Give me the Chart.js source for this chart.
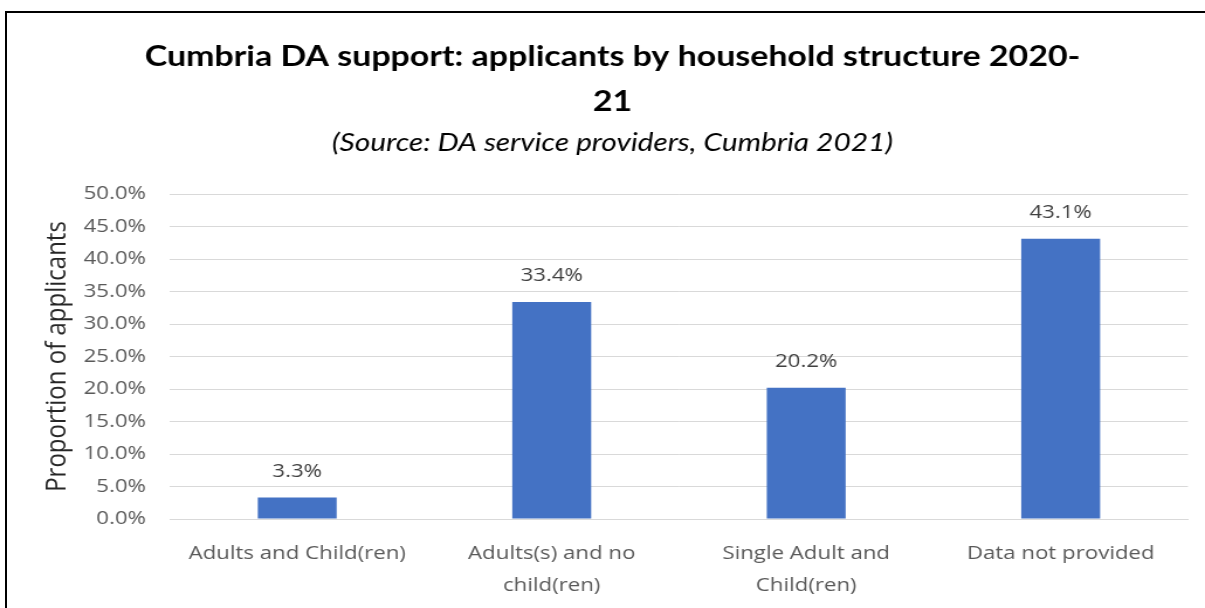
<!DOCTYPE html>
<html>
<head>
<meta charset="utf-8">
<script src="https://cdn.jsdelivr.net/npm/chart.js@4.4.1/dist/chart.umd.min.js"></script>
<style>
  html, body { margin: 0; padding: 0; background: #fff; overflow: hidden; }
  #wrap { position: relative; width: 1205px; height: 608px; overflow: hidden; }
  #frame { position: absolute; left: 5px; top: 11px; width: 1300px; height: 700px;
           border: 2px solid #000; box-sizing: border-box; pointer-events: none; }
  #c { position: absolute; left: 0; top: 0; transform-origin: 0 0; transform: scaleX(1.16990); }
</style>
</head>
<body>
<div id="wrap">
  <canvas id="c" width="1030" height="608"></canvas>
  <div id="frame"></div>
</div>
<script>
const titleLines = ["Cumbria DA support: applicants by household structure 2020-", "21"];
const subtitleText = "(Source: DA service providers, Cumbria 2021)";
const categories = [
  ["Adults and Child(ren)"],
  ["Adults(s) and no", "child(ren)"],
  ["Single Adult and", "Child(ren)"],
  ["Data not provided"]
];
const values = [3.3, 33.4, 20.2, 43.1];
const yAxisTitle = "Proportion of applicants";
const yMin = 0, yMax = 50, yStep = 5;

const valueLabels = {
  id: 'valueLabels',
  afterDatasetsDraw(chart) {
    const ctx = chart.ctx;
    const meta = chart.getDatasetMeta(0);
    ctx.save();
    ctx.font = '19px "Open Sans"';
    ctx.fillStyle = '#404040';
    ctx.textAlign = 'center';
    ctx.textBaseline = 'middle';
    meta.data.forEach((bar, i) => {
      ctx.fillText(values[i].toFixed(1) + '%', bar.x, bar.y - 26);
    });
    ctx.restore();
  }
};

new Chart(document.getElementById('c'), {
  type: 'bar',
  data: {
    labels: categories,
    datasets: [{
      data: values,
      backgroundColor: '#4472C4',
      borderWidth: 0,
      categoryPercentage: 1.0,
      barPercentage: 0.31
    }]
  },
  options: {
    responsive: false,
    animation: false,
    layout: { padding: { top: 12, left: 31.6, right: 14.6, bottom: 0 } },
    plugins: {
      legend: { display: false },
      tooltip: { enabled: false },
      title: {
        display: true,
        text: titleLines,
        color: '#000',
        font: { family: 'Lato', weight: 'bold', size: 29, lineHeight: 45 / 29 },
        padding: { top: 22, bottom: 6 }
      },
      subtitle: {
        display: true,
        text: subtitleText,
        color: '#000',
        font: { family: 'Lato', style: 'italic', size: 25.5, lineHeight: 26 / 25.5 },
        padding: { top: 0, bottom: 38 }
      }
    },
    scales: {
      x: {
        grid: { display: false, drawTicks: false },
        border: { display: true, color: '#d9d9d9', width: 1 },
        ticks: {
          color: '#595959',
          font: { family: 'Open Sans', size: 19, lineHeight: 32 / 19 },
          padding: 19,
          maxRotation: 0,
          autoSkip: false
        },
        afterFit: s => { s.height = 89; }
      },
      y: {
        min: yMin,
        max: yMax,
        grid: { color: '#d9d9d9', lineWidth: 1, drawTicks: false },
        border: { display: false },
        ticks: {
          stepSize: yStep,
          color: '#595959',
          font: { family: 'Open Sans', size: 19 },
          padding: 20.5,
          callback: v => v.toFixed(1) + '%'
        },
        title: {
          display: true,
          text: yAxisTitle,
          color: '#262626',
          font: { family: 'Open Sans', size: 24, lineHeight: 1.2 },
          padding: { top: 3.6, bottom: 0 }
        },
        afterFit: s => { s.width = 113.7; }
      }
    }
  },
  plugins: [valueLabels]
});
</script>
</body>
</html>
